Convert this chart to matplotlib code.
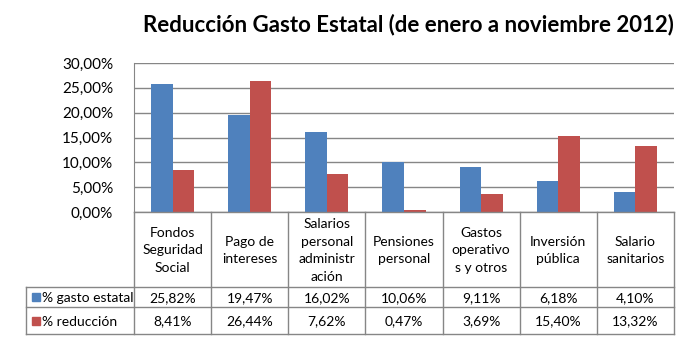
import numpy as np
import matplotlib.pyplot as plt

plt.rcParams['font.family'] = ['Lato', 'DejaVu Sans']

categorias = ["Fondos\nSeguridad\nSocial", "Pago de\nintereses", "Salarios\npersonal\nadministr\nación",
              "Pensiones\npersonal", "Gastos\noperativo\ns y otros", "Inversión\npública", "Salario\nsanitarios"]
gasto_estatal = [25.82, 19.47, 16.02, 10.06, 9.11, 6.18, 4.10]
reduccion = [8.41, 26.44, 7.62, 0.47, 3.69, 15.40, 13.32]
series = ["% gasto estatal", "% reducción"]
colores = ["#4F81BD", "#C0504D"]
yticks = [0, 5, 10, 15, 20, 25, 30]

W, H = 684, 341
fig = plt.figure(figsize=(W / 100, H / 100), dpi=100)
gris = "#868686"

def fmt(v):
    return ("%.2f%%" % v).replace(".", ",")

# main plot area (pixel layout)
x0, x1, ytop, ybot = 134, 674, 63, 212
ax = fig.add_axes([x0 / W, 1 - ybot / H, (x1 - x0) / W, (ybot - ytop) / H])
n = len(categorias)
x = np.arange(n)
bw = 0.28
ax.bar(x - bw / 2, gasto_estatal, bw, color=colores[0], zorder=3)
ax.bar(x + bw / 2, reduccion, bw, color=colores[1], zorder=3)
ax.set_xlim(-0.5, n - 0.5)
ax.set_ylim(0, 30)
ax.set_yticks(yticks)
ax.set_yticklabels([fmt(v) for v in yticks], fontsize=11)
ax.tick_params(axis='y', length=0, pad=15)
ax.set_xticks([])
ax.grid(axis='y', color=gris, lw=1, zorder=0)
for s in ['top', 'right', 'bottom']:
    ax.spines[s].set_visible(False)
ax.spines['left'].set_color(gris)

# data table below
tx0 = 26
tb = 334
r1, r2 = 287, 307
colw = (x1 - x0) / n
leg_w = (x0 - tx0) / colw
tax = fig.add_axes([tx0 / W, 1 - tb / H, (x1 - tx0) / W, (tb - ybot) / H])
tax.set_xlim(-0.5 - leg_w, n - 0.5)
tax.set_ylim(tb, ybot)
tax.axis('off')
lk = dict(color=gris, lw=1, clip_on=False)
tax.plot([-0.5, n - 0.5], [ybot, ybot], **lk)
for yy in [r1, r2, tb]:
    tax.plot([-0.5 - leg_w, n - 0.5], [yy, yy], **lk)
for b in np.arange(-0.5, n, 1.0):
    tax.plot([b, b], [ybot, tb], **lk)
tax.plot([-0.5 - leg_w, -0.5 - leg_w], [r1, tb], **lk)

for i, c in enumerate(categorias):
    tax.text(i, (ybot + r1) / 2 + 1, c, ha='center', va='center', fontsize=10, linespacing=1.55)
    tax.text(i, (r1 + r2) / 2 + 1, fmt(gasto_estatal[i]), ha='center', va='center', fontsize=10)
    tax.text(i, (r2 + tb) / 2 + 1, fmt(reduccion[i]), ha='center', va='center', fontsize=10)

lx = -0.5 - leg_w
for j, (nombre, col) in enumerate(zip(series, colores)):
    yc = (r1 + r2) / 2 if j == 0 else (r2 + tb) / 2
    tax.plot([lx + 10 / colw], [yc], marker='s', markersize=6, color=col, clip_on=False)
    tax.text(lx + 16 / colw, yc + 1, nombre, ha='left', va='center', fontsize=10)

fig.text(408 / W, 1 - 25 / H, "Reducción Gasto Estatal (de enero a noviembre 2012)",
         ha='center', va='center', fontsize=16, fontweight='bold')

fig.savefig("out.png", dpi=100)
